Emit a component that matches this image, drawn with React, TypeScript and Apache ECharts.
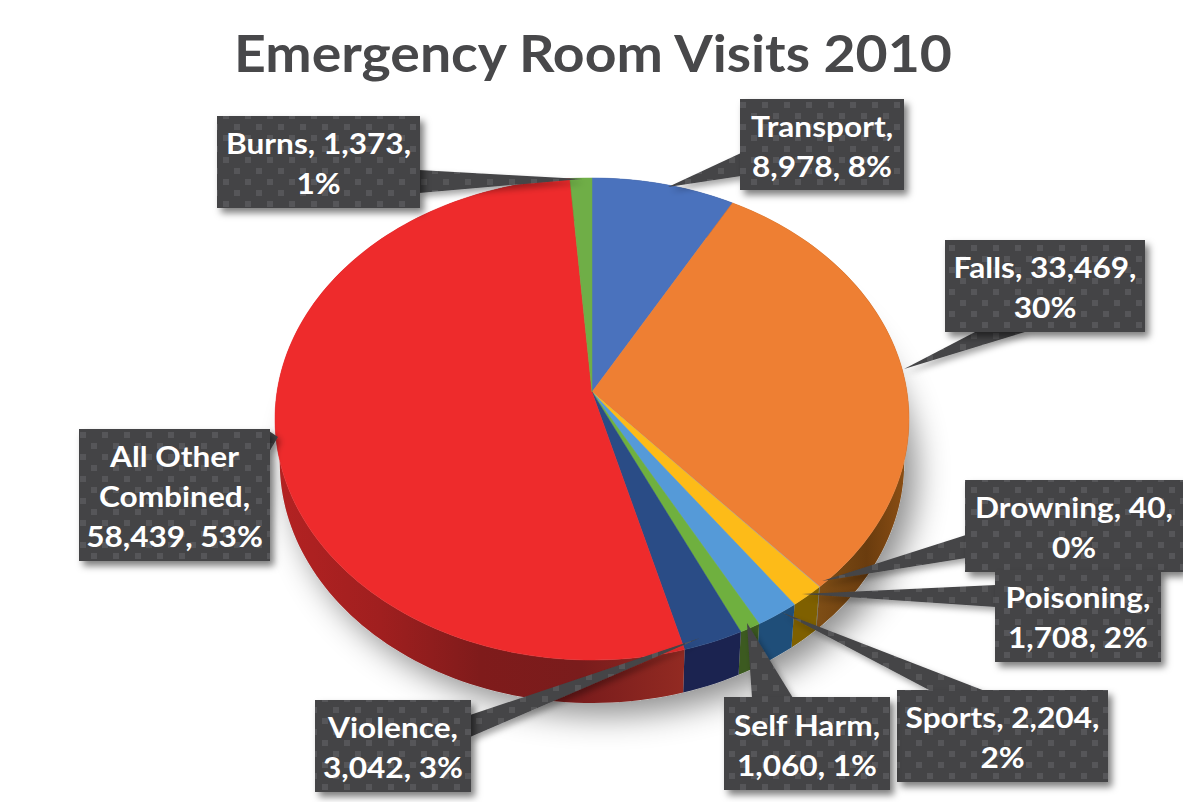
import React, { useEffect, useRef } from "react";
import * as echarts from "echarts";

// Emergency room visits by cause, clockwise from twelve o'clock.
const categories = ["Transport", "Falls", "Drowning", "Poisoning", "Sports", "Self Harm", "Violence", "All Other Combined", "Burns"];
const visits = [8978, 33469, 40, 1708, 2204, 1060, 3042, 58439, 1373];
const labelLines = [
  ["Transport,", "8,978, 8%"],
  ["Falls, 33,469,", "30%"],
  ["Drowning, 40,", "0%"],
  ["Poisoning,", "1,708, 2%"],
  ["Sports, 2,204,", "2%"],
  ["Self Harm,", "1,060, 1%"],
  ["Violence,", "3,042, 3%"],
  ["All Other", "Combined,", "58,439, 53%"],
  ["Burns, 1,373,", "1%"],
];

const faceColors = ["#4a72bd", "#ee7f33", "#a5a5a5", "#fdbb18", "#559ad8", "#6fb03f", "#2a4c86", "#ee2b2c", "#6fae47"];

// Callout boxes: [left, top, right, bottom], then the pointer as tip and two base points.
const boxes = [
  [740, 99, 904, 190],
  [945, 240, 1145, 332],
  [965, 480, 1183, 572],
  [995, 570, 1161, 662],
  [897, 690, 1108, 782],
  [724, 697, 890, 790],
  [315, 700, 471, 792],
  [79, 429, 270, 561],
  [217, 116, 420, 208],
];
const pointers = [
  [[668, 187], [741, 153], [741, 176]],
  [[904, 369], [977, 331], [1028, 331]],
  [[822, 581], [966, 535], [966, 558]],
  [[802, 594], [996, 585], [996, 607]],
  [[781, 612], [931, 691], [985, 691]],
  [[747, 623], [752, 698], [793, 698]],
  [[700, 638], [470, 715], [470, 737]],
  [[278, 437], [269, 431], [269, 452]],
  [[582, 179], [419, 170], [419, 193]],
];

// The tilted disc is a circle seen through a projective map.
const APEX_X = 592;
const APEX_Y = 392;
const SCALE_X = 315;
const SCALE_Y = 238;
const TILT = 0.112;
const DEPTH = 43;
const BOTTOM_SHRINK = 0.985;

const rimTop = (deg: number): number[] => {
  const t = (deg * Math.PI) / 180;
  const u = Math.sin(t);
  const v = -Math.cos(t);
  const w = 1 - TILT * v;
  return [APEX_X + (SCALE_X * u) / w, APEX_Y + (SCALE_Y * v) / w];
};
const rimBottom = (deg: number): number[] => {
  const p = rimTop(deg);
  return [APEX_X + (p[0] - APEX_X) * BOTTOM_SHRINK, p[1] + DEPTH];
};
const arcPoints = (rim: (d: number) => number[], from: number, to: number): number[][] => {
  const steps = Math.max(2, Math.ceil((to - from) / 1.5));
  const pts: number[][] = [];
  for (let i = 0; i <= steps; i++) pts.push(rim(from + ((to - from) * i) / steps));
  return pts;
};

const total = visits.reduce((a, b) => a + b, 0);
const sliceSpan = (index: number): number[] => {
  let before = 0;
  for (let i = 0; i < index; i++) before += visits[i];
  return [(before / total) * 360, ((before + visits[index]) / total) * 360];
};

const wallGradient = (x0: number, x1: number, stops: string[]) =>
  new echarts.graphic.LinearGradient(
    x0, 0, x1, 0,
    stops.map((color, k) => ({ offset: k / (stops.length - 1), color })),
    true,
  );

const wallFills = (): any[] => [
  "#26396a",
  wallGradient(790, 905, ["#8a5a1c", "#7a4a14", "#6a3c0e", "#8a4e14"]),
  "#555555",
  "#7f6000",
  "#1f4e79",
  "#3c5a20",
  "#1b2350",
  wallGradient(280, 682, ["#b32222", "#a01f1f", "#7f1b1b", "#7a1c1c", "#922a22"]),
  "#3c5a20",
];

const dotCanvas = (): HTMLCanvasElement => {
  const c = document.createElement("canvas");
  c.width = 22;
  c.height = 22;
  const g = c.getContext("2d")!;
  g.fillStyle = "#444446";
  g.fillRect(0, 0, 22, 22);
  g.fillStyle = "#565659";
  g.fillRect(3, 3, 6, 6);
  g.fillRect(14, 14, 6, 6);
  return c;
};

export default function App() {
  const ref = useRef<HTMLDivElement>(null);

  useEffect(() => {
    const chart = echarts.init(ref.current!, undefined, { renderer: "svg" });
    const dots = { image: dotCanvas(), repeat: "repeat" };
    const walls = wallFills();
    const rows = visits.map((v, i) => [i, v]);
    const font = "Lato, 'Noto Sans', sans-serif";

    chart.setOption({
      animation: false,
      backgroundColor: "#ffffff",
      graphic: [
        {
          type: "text",
          x: 593,
          y: 52,
          scaleX: 1.065,
          style: {
            text: "Emergency Room Visits 2010",
            align: "center",
            verticalAlign: "middle",
            fill: "#48484a",
            font: `bold 52px ${font}`,
          },
        },
      ],
      series: [
        {
          // Soft cast shadow under the disc.
          type: "custom",
          coordinateSystem: "none",
          z: 1,
          data: [[0]],
          renderItem: () => ({
            type: "polygon",
            shape: { points: arcPoints(rimBottom, 0, 360) },
            style: {
              fill: "#c9c9c9",
              shadowBlur: 32,
              shadowOffsetX: 12,
              shadowOffsetY: 12,
              shadowColor: "rgba(0,0,0,0.45)",
            },
          }),
        },
        {
          // Outer wall of each slice.
          type: "custom",
          coordinateSystem: "none",
          z: 2,
          data: rows,
          renderItem: (_p: any, api: any) => {
            const i = api.value(0);
            const [a, b] = sliceSpan(i);
            return {
              type: "polygon",
              shape: { points: [...arcPoints(rimTop, a, b), ...arcPoints(rimBottom, a, b).reverse()] },
              style: { fill: walls[i] },
            };
          },
        },
        {
          // Top face of each slice.
          type: "custom",
          coordinateSystem: "none",
          z: 3,
          data: rows,
          renderItem: (_p: any, api: any) => {
            const i = api.value(0);
            const [a, b] = sliceSpan(i);
            return {
              type: "polygon",
              shape: { points: [[APEX_X, APEX_Y], ...arcPoints(rimTop, a, b)] },
              style: { fill: faceColors[i], stroke: faceColors[i], lineWidth: 0.5 },
            };
          },
        },
        {
          // Callouts: pointer, shadowed box, dotted fill, text.
          type: "custom",
          coordinateSystem: "none",
          z: 4,
          data: rows,
          renderItem: (_p: any, api: any) => {
            const i = api.value(0);
            const [l, t, r, bt] = boxes[i];
            const rect = { x: l, y: t, width: r - l, height: bt - t };
            const lines = labelLines[i];
            const lineHeight = 40;
            const firstY = (t + bt) / 2 + 1 - ((lines.length - 1) * lineHeight) / 2;
            return {
              type: "group",
              children: [
                {
                  type: "polygon",
                  shape: { points: pointers[i] },
                  style: {
                    fill: dots,
                    shadowBlur: 6,
                    shadowOffsetX: 3,
                    shadowOffsetY: 4,
                    shadowColor: "rgba(0,0,0,0.35)",
                  },
                },
                {
                  type: "rect",
                  shape: rect,
                  style: {
                    fill: "#444446",
                    shadowBlur: 7,
                    shadowOffsetX: 4,
                    shadowOffsetY: 5,
                    shadowColor: "rgba(0,0,0,0.5)",
                  },
                },
                { type: "rect", shape: rect, style: { fill: dots } },
                ...lines.map((line, k) => ({
                  type: "text",
                  x: (l + r) / 2,
                  y: firstY + k * lineHeight,
                  scaleX: 1.09,
                  style: {
                    text: line,
                    align: "center",
                    verticalAlign: "middle",
                    fill: "#ffffff",
                    font: `bold 29px ${font}`,
                  },
                })),
              ],
            };
          },
        },
      ],
    });
    return () => chart.dispose();
  }, []);

  return <div ref={ref} style={{ position: "absolute", left: 0, top: 0, width: 1183, height: 802 }} />;
}
